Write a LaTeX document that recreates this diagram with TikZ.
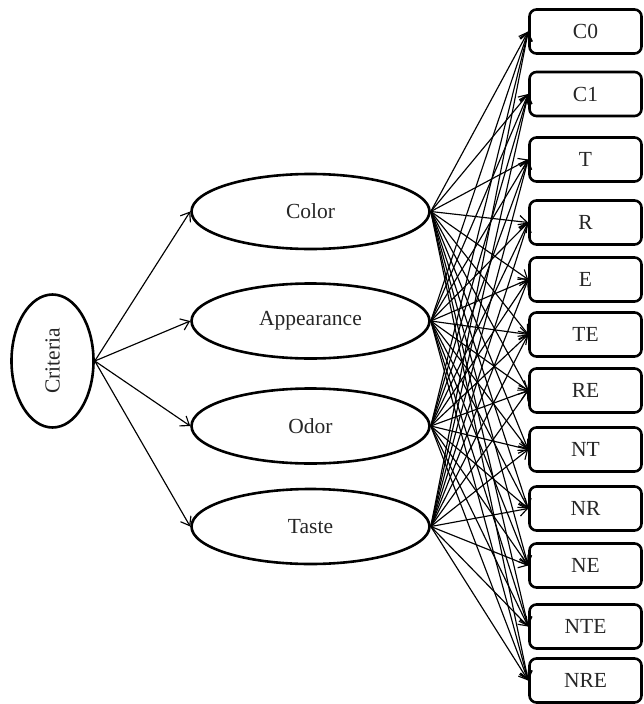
\documentclass[tikz,border=0pt]{standalone}
\usepackage{fontspec}
\setmainfont{Liberation Serif}
\usepackage{graphicx}
\usetikzlibrary{shapes.geometric,arrows.meta}
\begin{document}
\begin{tikzpicture}[x=1pt,y=-1pt,
 every node/.style={font=\fontsize{21.5}{26}\selectfont, text=black!85},
 oval/.style={ellipse, draw, line width=2.6pt, inner sep=0pt, minimum width=238pt, minimum height=75pt},
 crit/.style={ellipse, draw, line width=2.6pt, inner sep=0pt, minimum width=82pt, minimum height=133pt},
 box/.style={draw, line width=2.6pt, rounded corners=7pt, minimum width=112pt, minimum height=44pt, inner sep=0pt},
 arr/.style={line width=1.15pt, -{Straight Barb[length=8pt,width=12pt,line width=1.15pt]}}]
\useasboundingbox (0,0) rectangle (643,704);

\node[crit] (crit) at (52.5,361) {\rotatebox{90}{Criteria}};

\node[oval] (color) at (310.5,211.5) {Color};
\node[oval] (app) at (310.5,321) {Appearance};
\node[oval] (odor) at (310.5,426) {Odor};
\node[oval] (taste) at (310.5,526.5) {Taste};

\node[box] (c0) at (585.5,31.5) {C0};
\node[box] (c1) at (585.5,94) {C1};
\node[box] (t) at (585.5,159.5) {T};
\node[box] (r) at (585.5,222.5) {R};
\node[box] (e) at (585.5,279.5) {E};
\node[box] (te) at (585.5,334.5) {TE};
\node[box] (re) at (585.5,390.5) {RE};
\node[box] (nt) at (585.5,449.5) {NT};
\node[box] (nr) at (585.5,508.5) {NR};
\node[box] (ne) at (585.5,565.5) {NE};
\node[box] (nte) at (585.5,626.5) {NTE};
\node[box] (nre) at (585.5,680.5) {NRE};

\foreach \s in {color,app,odor,taste}
  \draw[arr] (crit.east) -- (\s.west);

\foreach \s in {color,app,odor,taste}
  \foreach \b in {c0,c1,t,r,e,te,re,nt,nr,ne,nte,nre}
    \draw[arr] (\s.east) -- (\b.west);
\end{tikzpicture}
\end{document}
